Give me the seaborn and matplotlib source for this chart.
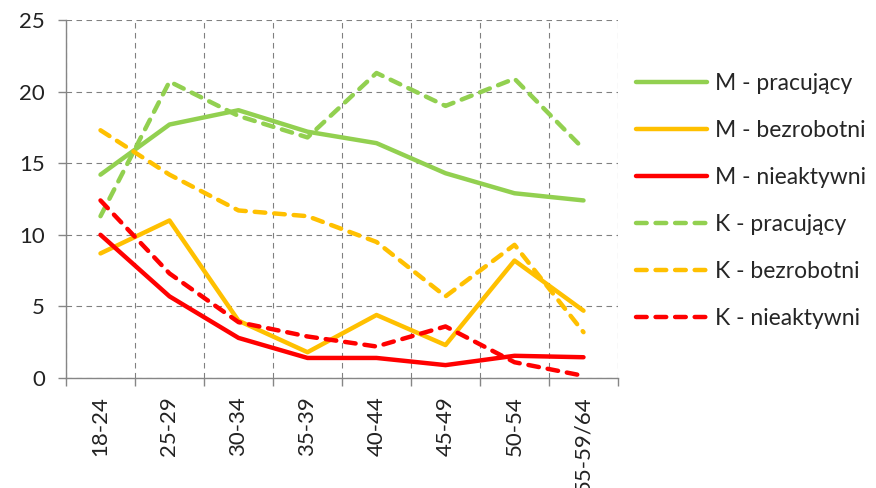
import pandas as pd
import seaborn as sns
import matplotlib.pyplot as plt

# age groups on the x axis
age_groups = ["18-24", "25-29", "30-34", "35-39", "40-44", "45-49", "50-54", "55-59/64"]

# M = men, K = women
m_pracujacy = [14.2, 17.7, 18.7, 17.2, 16.4, 14.3, 12.9, 12.4]
m_bezrobotni = [8.7, 11.0, 4.0, 1.8, 4.4, 2.3, 8.2, 4.7]
m_nieaktywni = [10.0, 5.7, 2.8, 1.4, 1.4, 0.9, 1.55, 1.45]
k_pracujacy = [11.3, 20.7, 18.3, 16.8, 21.3, 19.0, 20.9, 16.0]
k_bezrobotni = [17.3, 14.2, 11.7, 11.3, 9.5, 5.7, 9.3, 3.2]
k_nieaktywni = [12.4, 7.3, 3.9, 2.9, 2.2, 3.6, 1.1, 0.15]

series = [
    ("M - pracujący", m_pracujacy, "#92D050", False),
    ("M - bezrobotni", m_bezrobotni, "#FFC000", False),
    ("M - nieaktywni", m_nieaktywni, "#FF0000", False),
    ("K - pracujący", k_pracujacy, "#92D050", True),
    ("K - bezrobotni", k_bezrobotni, "#FFC000", True),
    ("K - nieaktywni", k_nieaktywni, "#FF0000", True),
]

sns.set_style("white")
plt.rcParams["font.family"] = ["Lato", "DejaVu Sans"]

fig = plt.figure(figsize=(8.76, 4.88), dpi=100)
ax = fig.add_axes([66 / 876, 1 - 378 / 488, (618 - 66) / 876, (378 - 20) / 488])

pos = list(range(len(age_groups)))
for name, vals, color, dashed in series:
    df = pd.DataFrame({"x": pos, "y": vals})
    sns.lineplot(data=df, x="x", y="y", ax=ax, color=color, lw=3.2,
                 label=name, sort=False)
    l = ax.lines[-1]
    l.set_solid_capstyle("round")
    if dashed:
        l.set_dashes((2.4, 2.0))
        l.set_dash_capstyle("round")

ax.set_xlim(-0.5, len(age_groups) - 0.5)
ax.set_ylim(0, 25)
ax.set_yticks([0, 5, 10, 15, 20, 25])
ax.set_xticks(pos)
ax.set_xticklabels(age_groups, rotation=90)
ax.set_xticks([p - 0.5 for p in pos] + [len(age_groups) - 0.5], minor=True)
ax.set_xlabel("")
ax.set_ylabel("")

gridkw = dict(color="#808080", lw=0.8, linestyle=(0, (5, 4)))
ax.yaxis.grid(True, **gridkw)
ax.xaxis.grid(True, which="minor", **gridkw)
ax.xaxis.grid(False, which="major")

for s in ["top", "right"]:
    ax.spines[s].set_visible(False)
for s in ["left", "bottom"]:
    ax.spines[s].set_color("#868686")
    ax.spines[s].set_linewidth(1.0)

ax.tick_params(axis="y", which="major", direction="out", length=6, width=1,
               color="#868686", labelsize=16, labelcolor="#222222", pad=9, left=True)
ax.tick_params(axis="x", which="major", length=0, labelsize=16,
               labelcolor="#222222", pad=13)
ax.tick_params(axis="x", which="minor", direction="out", length=6, width=1,
               color="#868686", bottom=True)

ax.get_legend().remove()
handles, labels = ax.get_legend_handles_labels()
fig.legend(handles, labels, loc="upper left", bbox_to_anchor=(0.726, 0.851),
           frameon=False, fontsize=16.5, handlelength=3.1, handletextpad=0.35,
           labelspacing=1.14, borderpad=0, borderaxespad=0)

fig.savefig("out.png", dpi=100)
